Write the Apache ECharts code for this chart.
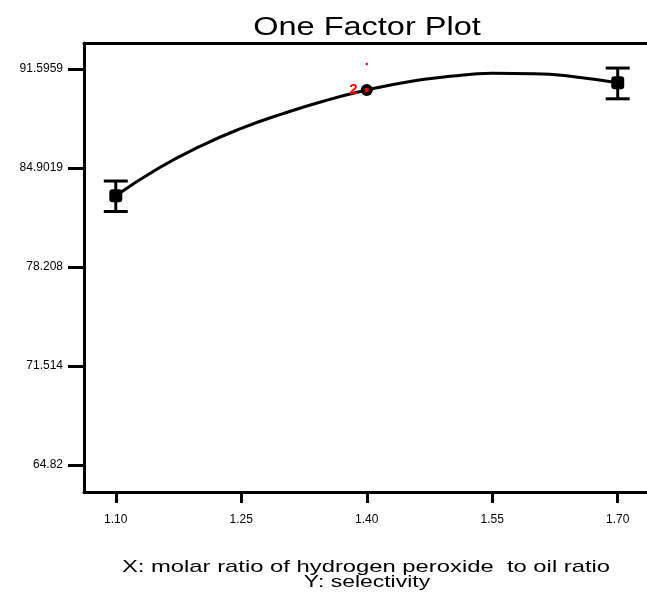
<!DOCTYPE html>
<html>
<head>
<meta charset="utf-8">
<script src="https://cdn.jsdelivr.net/npm/echarts@6/dist/echarts.min.js"></script>
<style>html,body{margin:0;padding:0;background:#fff}#c{width:647px;height:605px}</style>
</head>
<body>
<div id="c"></div>
<script>
// ---- data ----
const chartTitle = 'One Factor Plot';
const xTitle = 'X: molar ratio of hydrogen peroxide  to oil ratio';
const yTitle = 'Y: selectivity';
const xTickValues = [1.10, 1.25, 1.40, 1.55, 1.70];
const xTickLabels = ['1.10', '1.25', '1.40', '1.55', '1.70'];
const yTickValues = [64.82, 71.514, 78.208, 84.9019, 91.5959];
const yTickLabels = ['64.82', '71.514', '78.208', '84.9019', '91.5959'];
// predicted curve
const curveX = [1.10, 1.15, 1.20, 1.25, 1.30, 1.35, 1.40, 1.45, 1.50, 1.55, 1.60, 1.65, 1.70];
const curveY = [83.02, 84.85, 86.35, 87.58, 88.58, 89.45, 90.17, 90.74, 91.10, 91.30, 91.28, 91.06, 90.66];
// factor levels with prediction and interval bars
const levelX = [1.10, 1.70];
const levelMean = [83.02, 90.66];
const levelLow = [81.96, 89.58];
const levelHigh = [84.02, 91.66];
// center point
const centerX = [1.40];
const centerY = [90.17];
// actual design points (red)
const designX = [1.40, 1.40];
const designY = [90.17, 91.93];
const designLabel = ['2', ''];

const chart = echarts.init(document.getElementById('c'), null, {renderer: 'canvas'});
const FONT = 'Liberation Sans, Arial, sans-serif';

const option = {
  animation: false,
  backgroundColor: '#fff',
  grid: {left: 84, right: 0, top: 43, bottom: 113, containLabel: false},
  xAxis: [{
    type: 'value', min: 1.062, max: 1.735, position: 'bottom',
    splitLine: {show: false},
    axisLine: {show: true, onZero: false, lineStyle: {color: '#000', width: 3}},
    axisTick: {show: true, inside: false, length: 11, customValues: xTickValues, lineStyle: {color: '#000', width: 3}},
    axisLabel: {show: true, margin: 22, customValues: xTickValues, color: '#000', fontFamily: FONT, fontSize: 12,
      formatter: (v) => { const i = xTickValues.findIndex(t => Math.abs(t - v) < 1e-6); return i >= 0 ? xTickLabels[i] : ''; }}
  }, {
    type: 'value', min: 1.062, max: 1.735, position: 'top',
    splitLine: {show: false},
    axisLine: {show: true, onZero: false, lineStyle: {color: '#000', width: 3}},
    axisTick: {show: false}, axisLabel: {show: false}
  }],
  yAxis: {
    type: 'value', min: 62.99, max: 93.354,
    splitLine: {show: false},
    axisLine: {show: true, onZero: false, lineStyle: {color: '#000', width: 3}},
    axisTick: {show: true, inside: false, length: 16, customValues: yTickValues, lineStyle: {color: '#000', width: 3}},
    axisLabel: {show: true, margin: 21, customValues: yTickValues, color: '#000', fontFamily: FONT, fontSize: 12,
      formatter: (v) => { const i = yTickValues.findIndex(t => Math.abs(t - v) < 1e-6); return i >= 0 ? yTickLabels[i] : ''; }}
  },
  graphic: [
    {type: 'text', x: 367, y: 28, scaleX: 1.25, z: 10,
      style: {text: chartTitle, fill: '#000', font: '26px ' + FONT, textAlign: 'center', textVerticalAlign: 'middle'}},
    {type: 'text', x: 366, y: 567, scaleX: 1.4, z: 10,
      style: {text: xTitle, fill: '#000', font: '17px ' + FONT, textAlign: 'center', textVerticalAlign: 'middle'}},
    {type: 'text', x: 367, y: 582, scaleX: 1.35, z: 10,
      style: {text: yTitle, fill: '#000', font: '17px ' + FONT, textAlign: 'center', textVerticalAlign: 'middle'}}
  ],
  series: [
    {
      type: 'line', smooth: 0.5, showSymbol: false, symbol: 'none',
      data: curveX.map((x, i) => [x, curveY[i]]),
      lineStyle: {color: '#000', width: 3}, z: 3
    },
    {
      type: 'custom',
      data: levelX.map((x, i) => [x, levelLow[i], levelHigh[i]]),
      renderItem: function (params, api) {
        const x = api.value(0);
        const lo = api.coord([x, api.value(1)]);
        const hi = api.coord([x, api.value(2)]);
        const hw = 12;
        const st = {stroke: '#000', lineWidth: 3};
        return {type: 'group', children: [
          {type: 'line', shape: {x1: hi[0], y1: hi[1], x2: lo[0], y2: lo[1]}, style: st},
          {type: 'line', shape: {x1: hi[0] - hw, y1: hi[1], x2: hi[0] + hw, y2: hi[1]}, style: st},
          {type: 'line', shape: {x1: lo[0] - hw, y1: lo[1], x2: lo[0] + hw, y2: lo[1]}, style: st}
        ]};
      }, z: 4
    },
    {
      type: 'scatter', symbol: 'roundRect', symbolSize: 13,
      data: levelX.map((x, i) => [x, levelMean[i]]),
      itemStyle: {color: '#000', opacity: 1}, z: 5
    },
    {
      type: 'scatter', symbol: 'circle', symbolSize: 12,
      data: centerX.map((x, i) => [x, centerY[i]]),
      itemStyle: {color: '#000', opacity: 1}, z: 5
    },
    {
      type: 'scatter', symbol: 'circle', symbolSize: 4,
      data: designX.map((x, i) => ({value: [x, designY[i]], symbolSize: i === 0 ? 4.5 : 2.5,
        label: {show: designLabel[i] !== '', formatter: designLabel[i], position: 'left', distance: 7,
          color: '#ff0000', fontWeight: 'bold', fontSize: 15, fontFamily: FONT}})),
      itemStyle: {color: '#ff0000', opacity: 1}, z: 6
    }
  ]
};
chart.setOption(option);
</script>
</body>
</html>
